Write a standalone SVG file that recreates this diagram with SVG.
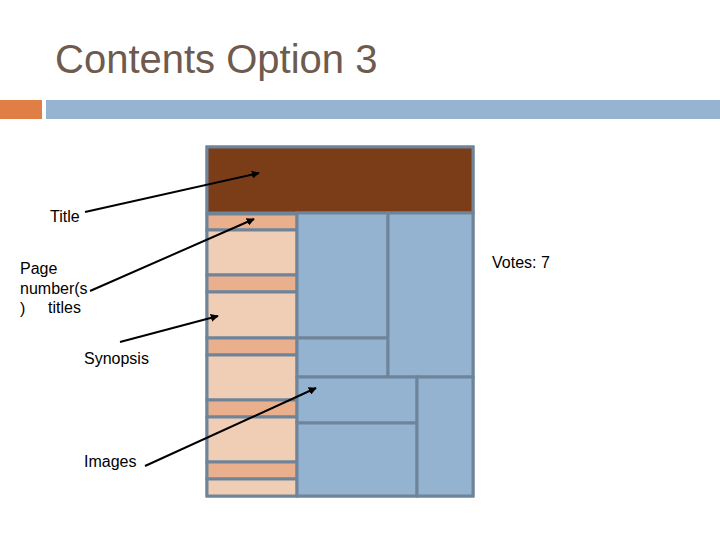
<svg xmlns="http://www.w3.org/2000/svg" width="720" height="540" viewBox="0 0 720 540">
<style>
.t{font-family:"Liberation Sans",Arial,sans-serif;font-size:16px;fill:#000}
.c{stroke:#6f8499;stroke-width:3}
.d{fill:#eab08e}.l{fill:#f0ceb6}.b{fill:#93b3d0}
.a{stroke:#000;stroke-width:2;fill:none;marker-end:url(#m)}
</style>
<defs><marker id="m" viewBox="0 0 10 10" refX="9" refY="5" markerWidth="4" markerHeight="4" orient="auto"><path d="M0,0L10,5L0,10z" fill="#000"/></marker></defs>
<rect width="720" height="540" fill="#fff"/>
<text x="55" y="73" font-family="Liberation Sans,Arial,sans-serif" font-size="40" fill="#6e5a4e">Contents Option 3</text>
<rect x="0" y="100" width="42" height="19" fill="#e07e45"/>
<rect x="46" y="100" width="674" height="19" fill="#94b4d1"/>
<g id="page">
<rect x="207" y="147" width="266" height="349" fill="#93b3d0" class="c"/>
<rect x="207" y="147" width="266" height="66" fill="#7a3d18" class="c"/>
<g class="c">
<rect x="207" y="214" width="90" height="16" class="d"/>
<rect x="207" y="230" width="90" height="45" class="l"/>
<rect x="207" y="275" width="90" height="17" class="d"/>
<rect x="207" y="292" width="90" height="46" class="l"/>
<rect x="207" y="338" width="90" height="17" class="d"/>
<rect x="207" y="355" width="90" height="45" class="l"/>
<rect x="207" y="400" width="90" height="17" class="d"/>
<rect x="207" y="417" width="90" height="45" class="l"/>
<rect x="207" y="462" width="90" height="17" class="d"/>
<rect x="207" y="479" width="90" height="17" class="l"/>
<rect x="297" y="213" width="91" height="125" class="b"/>
<rect x="297" y="338" width="91" height="39" class="b"/>
<rect x="388" y="213" width="85" height="164" class="b"/>
<rect x="297" y="377" width="120" height="46" class="b"/>
<rect x="297" y="423" width="120" height="73" class="b"/>
<rect x="417" y="377" width="56" height="119" class="b"/>
</g>
</g>
<g id="labels">
<text class="t" x="50" y="222">Title</text>
<text class="t" x="20" y="274">Page</text>
<text class="t" x="20" y="294">number(s</text>
<text class="t" x="20" y="314">)</text>
<text class="t" x="48" y="313">titles</text>
<text class="t" x="84" y="364">Synopsis</text>
<text class="t" x="84" y="467">Images</text>
<text class="t" x="492" y="268">Votes: 7</text>
</g>
<g id="connectors">
<line class="a" x1="85" y1="212" x2="259" y2="173"/>
<line class="a" x1="90" y1="291" x2="254" y2="219"/>
<line class="a" x1="120" y1="342" x2="218" y2="316"/>
<line class="a" x1="145" y1="466" x2="316" y2="388"/>
</g>
</svg>
